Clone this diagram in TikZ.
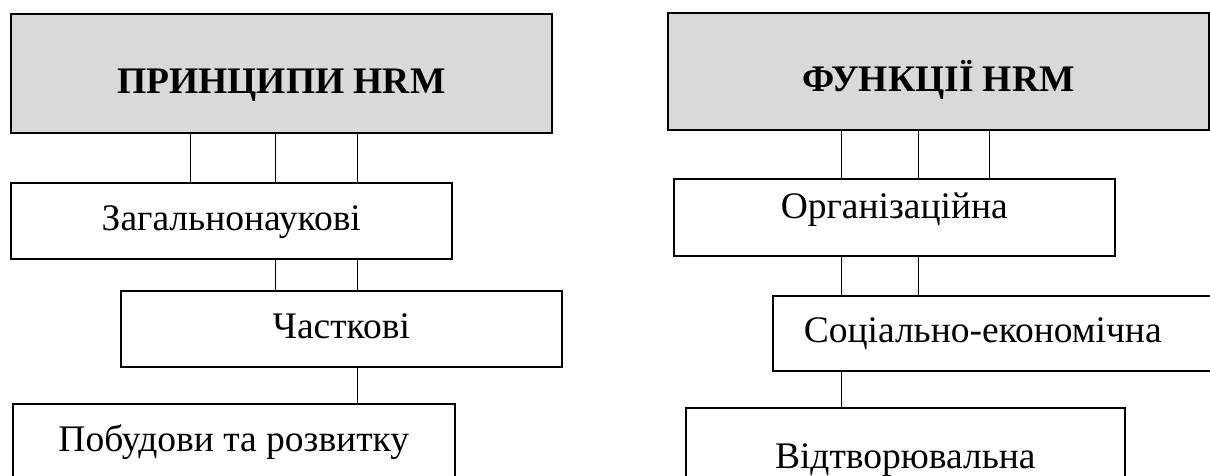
\documentclass[tikz,border=0pt]{standalone}
\usepackage{fontspec}
\setmainfont{Liberation Serif}
\newfontfamily\boxfont{Liberation Serif}

\definecolor{headgray}{RGB}{217,217,217}

\tikzset{
  box/.style={draw, line width=1.6pt, inner sep=0pt, anchor=north west,
    text height=27pt, text depth=8pt, font=\boxfont\fontsize{37.5}{45}\selectfont},
  head/.style={box, fill=headgray, text height=48.8pt,
    font=\boxfont\fontsize{37.5}{45}\selectfont\bfseries},
  link/.style={line width=1pt}
}

\begin{document}
\begin{tikzpicture}[x=1pt,y=-1pt]
  \useasboundingbox (0,0) rectangle (1210,475);
  \clip (0,0) rectangle (1210,475);

  % left column
  \node[head, minimum width=541pt, minimum height=119pt] (prin) at (10,13) {ПРИНЦИПИ HRM};
  \node[box, minimum width=441pt, minimum height=76pt] (gen) at (10,182) {Загальнонаукові};
  \node[box, minimum width=441pt, minimum height=76pt] (part) at (120,290) {Часткові};
  \node[box, minimum width=442pt, minimum height=76pt] (build) at (12,403) {Побудови та розвитку};

  \foreach \x in {190,275,357} {
    \draw[link] (prin.south -| \x,0) -- (gen.north -| \x,0);
  }
  \foreach \x in {275,357} {
    \draw[link] (gen.south -| \x,0) -- (part.north -| \x,0);
  }
  \draw[link] (part.south -| 357,0) -- (build.north -| 357,0);

  % right column
  \node[head, minimum width=541pt, minimum height=117pt] (func) at (667,12) {ФУНКЦІЇ HRM};
  \node[box, minimum width=441pt, minimum height=77pt, text depth=25.2pt] (org) at (673,178) {Організаційна};
  \node[box, minimum height=75pt, inner xsep=31pt, text width=430pt, align=left] (soc) at (772,295) {Соціально-економічна};
  \node[box, minimum width=439pt, minimum height=102pt] (repr) at (685,407) {Відтворювальна};

  \foreach \x in {841,918,989} {
    \draw[link] (func.south -| \x,0) -- (org.north -| \x,0);
  }
  \foreach \x in {841,918} {
    \draw[link] (org.south -| \x,0) -- (soc.north -| \x,0);
  }
  \draw[link] (soc.south -| 841,0) -- (repr.north -| 841,0);
\end{tikzpicture}
\end{document}
